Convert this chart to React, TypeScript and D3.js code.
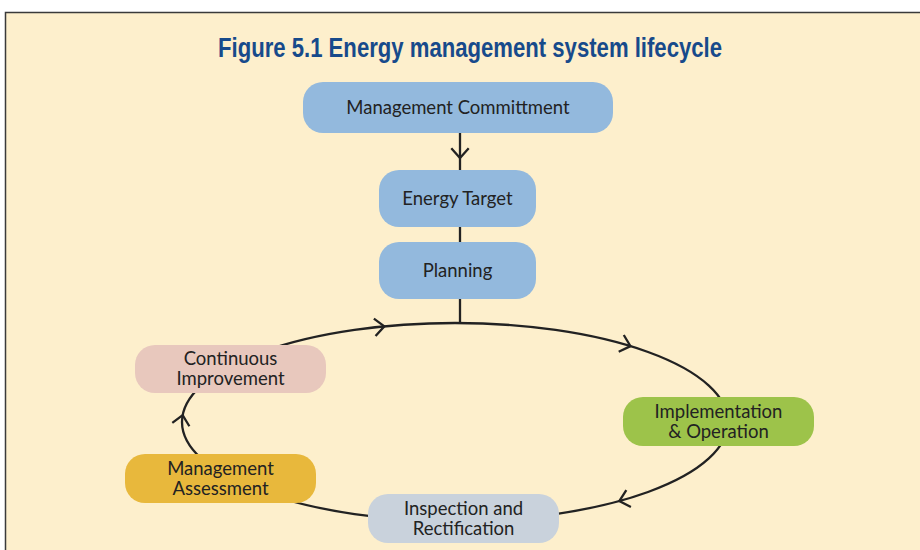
import React, { useEffect, useRef } from "react";
import * as d3 from "d3";

// chart text
const title = "Figure 5.1 Energy management system lifecycle";
const labels = [
  ["Management Committment"],
  ["Energy Target"],
  ["Planning"],
  ["Implementation", "& Operation"],
  ["Inspection and", "Rectification"],
  ["Management", "Assessment"],
  ["Continuous", "Improvement"],
];
const fills = ["#93b9dd", "#93b9dd", "#93b9dd", "#9dc34a", "#c9d2dc", "#e8b83c", "#e8c8bd"];

// layout: x, y, w, h of each box
const boxes = [
  [303, 82, 310, 51],
  [379, 170, 157, 57],
  [379, 242, 157, 57],
  [623, 397, 191, 49],
  [368, 494, 191, 49],
  [125, 454, 191, 49],
  [135, 345, 191, 48],
];

// the cycle ellipse and where its arrows sit (degrees, clockwise from east)
const cycle = { cx: 455, cy: 422, rx: 273, ry: 99 };
const arrowAngles = [255, 310, 53, 184];

const W = 920, H = 550;

export default function App() {
  const ref = useRef<SVGSVGElement>(null);

  useEffect(() => {
    const svg = d3.select(ref.current);
    svg.selectAll("*").remove();

    // panel
    svg.append("rect").attr("width", W).attr("height", H).attr("fill", "#fff");
    svg.append("rect")
      .attr("x", 5.5).attr("y", 12.5)
      .attr("width", W + 10).attr("height", H + 10)
      .attr("fill", "#fdefcc")
      .attr("stroke", "#3a3a3a").attr("stroke-width", 1.5);

    // condensed bold title: squeeze Liberation Sans to the original width
    svg.append("text")
      .attr("x", 470).attr("y", 57)
      .attr("text-anchor", "middle")
      .attr("font-family", "'Liberation Sans', Arial, sans-serif")
      .attr("font-weight", "bold")
      .attr("font-size", 27)
      .attr("textLength", 504)
      .attr("lengthAdjust", "spacingAndGlyphs")
      .attr("fill", "#174a8b")
      .text(title);

    const ink = "#222";
    const sw = 2.3;
    const line = d3.line();

    // vertical connector
    const midX = boxes[0][0] + boxes[0][2] / 2 + 2;
    const top = cycle.cy - cycle.ry;
    svg.append("path")
      .attr("d", line([[midX, boxes[0][1] + boxes[0][3]], [midX, top]]))
      .attr("stroke", ink).attr("stroke-width", sw).attr("fill", "none");

    // cycle
    svg.append("ellipse")
      .attr("cx", cycle.cx).attr("cy", cycle.cy)
      .attr("rx", cycle.rx).attr("ry", cycle.ry)
      .attr("fill", "none").attr("stroke", ink).attr("stroke-width", sw);

    const chevron = (tx: number, ty: number, dx: number, dy: number) => {
      const a = Math.atan2(dy, dx), len = 13, spread = (42 * Math.PI) / 180;
      const p1: [number, number] = [tx - len * Math.cos(a - spread), ty - len * Math.sin(a - spread)];
      const p2: [number, number] = [tx - len * Math.cos(a + spread), ty - len * Math.sin(a + spread)];
      svg.append("path")
        .attr("d", line([p1, [tx, ty], p2]))
        .attr("stroke", ink).attr("stroke-width", sw).attr("fill", "none")
        .attr("stroke-linejoin", "miter");
    };

    chevron(midX, 158, 0, 1);
    arrowAngles.forEach((deg) => {
      const t = (deg * Math.PI) / 180;
      const x = cycle.cx + cycle.rx * Math.cos(t);
      const y = cycle.cy + cycle.ry * Math.sin(t);
      chevron(x, y, -cycle.rx * Math.sin(t), cycle.ry * Math.cos(t));
    });

    // boxes
    const g = svg.selectAll("g.node")
      .data(labels)
      .enter()
      .append("g")
      .attr("class", "node");

    g.append("rect")
      .attr("x", (_, i) => boxes[i][0])
      .attr("y", (_, i) => boxes[i][1])
      .attr("width", (_, i) => boxes[i][2])
      .attr("height", (_, i) => boxes[i][3])
      .attr("rx", 20)
      .attr("fill", (_, i) => fills[i]);

    g.each(function (lines, i) {
      const [x, y, w, h] = boxes[i];
      const cx = x + w / 2, cy = y + h / 2;
      d3.select(this).selectAll("text")
        .data(lines)
        .enter()
        .append("text")
        .attr("x", cx)
        .attr("y", (_, j) => cy + 6 + (j - (lines.length - 1) / 2) * 20)
        .attr("text-anchor", "middle")
        .attr("font-family", "Lato, 'Open Sans', sans-serif")
        .attr("font-size", 18.5)
        .attr("fill", "#222")
        .text((d) => d);
    });
  }, []);

  return (
    <svg
      ref={ref}
      width={W}
      height={H}
      style={{ position: "absolute", left: 0, top: 0, display: "block" }}
    />
  );
}
